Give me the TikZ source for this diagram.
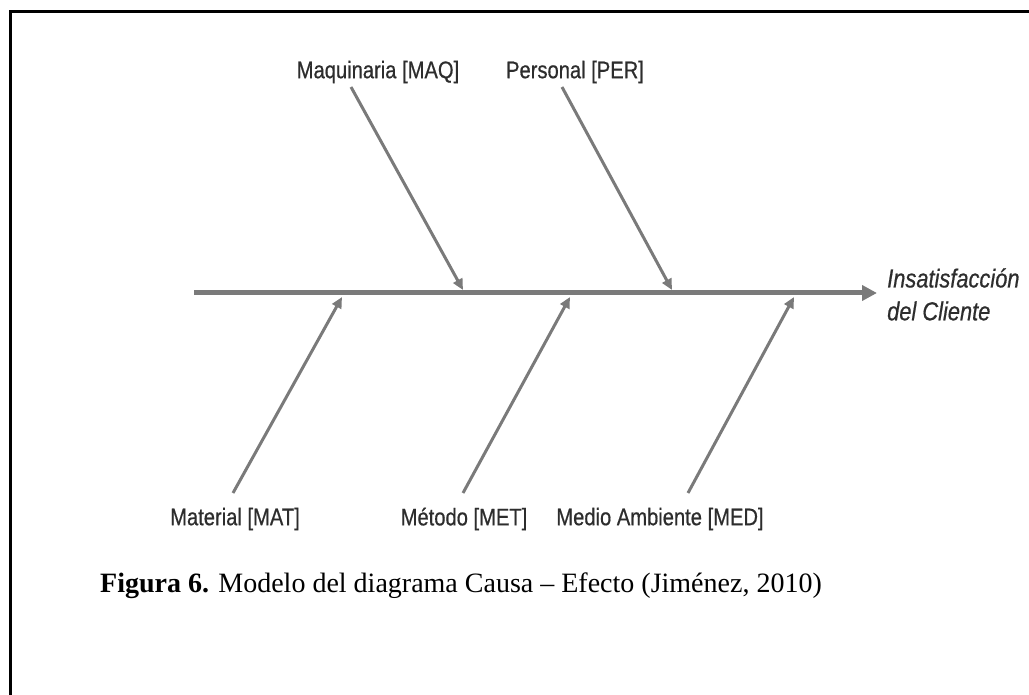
\documentclass[tikz,border=0pt]{standalone}
\usepackage{fontspec}
\setmainfont{Liberation Serif}
\newfontfamily\narrowsans[FakeStretch=0.84,FakeBold=0.6]{Liberation Sans}
\usetikzlibrary{arrows.meta}
\definecolor{bonegray}{RGB}{122,122,122}
\definecolor{labelgray}{RGB}{45,45,45}
\begin{document}
\begin{tikzpicture}[x=1pt,y=-1pt,
  cause/.style={font=\narrowsans\fontsize{24}{28}\selectfont, text=labelgray, inner sep=0pt},
  effect/.style={font=\narrowsans\itshape\fontsize{26}{30}\selectfont, text=labelgray, inner sep=0pt, anchor=west},
  spine/.style={draw=bonegray, line width=5pt, -{Triangle[length=15pt,width=15pt]}},
  bone/.style={draw=bonegray, line width=3pt, -{Triangle[length=11pt,width=10pt]}},
  caption/.style={font=\fontsize{28}{33}\selectfont, inner sep=0pt, anchor=base west}]
  \useasboundingbox (0,0) rectangle (1029,695);
  % outer frame (only the top and left sides fall inside the page)
  \draw[line width=3pt] (10.5,695) -- (10.5,11.7) -- (1029,11.7);

  % spine of the fishbone
  \coordinate (tail) at (194,293);
  \coordinate (head) at (877,293);
  \draw[spine] (tail) -- (head);

  % effect
  \node[effect] (eff1) at (887,278) {Insatisfacción};
  \node[effect] (eff2) at (887,311) {del Cliente};

  % causes above the spine
  \node[cause] (maq) at (378,72) {Maquinaria [MAQ]};
  \node[cause] (per) at (575,72) {Personal [PER]};
  \coordinate (maqS) at (351,87);
  \coordinate (maqT) at (463,290);
  \coordinate (perS) at (562,87);
  \coordinate (perT) at (672,290);
  \draw[bone] (maqS) -- (maqT);
  \draw[bone] (perS) -- (perT);

  % causes below the spine
  \node[cause] (mat) at (235,519) {Material [MAT]};
  \node[cause] (met) at (464,519) {Método [MET]};
  \node[cause] (med) at (660,519) {Medio Ambiente [MED]};
  \coordinate (matS) at (233,493);
  \coordinate (matT) at (342,297);
  \coordinate (metS) at (463,493);
  \coordinate (metT) at (570,297);
  \coordinate (medS) at (688,493);
  \coordinate (medT) at (794,297);
  \draw[bone] (matS) -- (matT);
  \draw[bone] (metS) -- (metT);
  \draw[bone] (medS) -- (medT);

  % figure caption
  \node[caption] (cap) at (100,592) {\textbf{Figura 6.} Modelo del diagrama Causa – Efecto (Jiménez, 2010)};
\end{tikzpicture}
\end{document}
